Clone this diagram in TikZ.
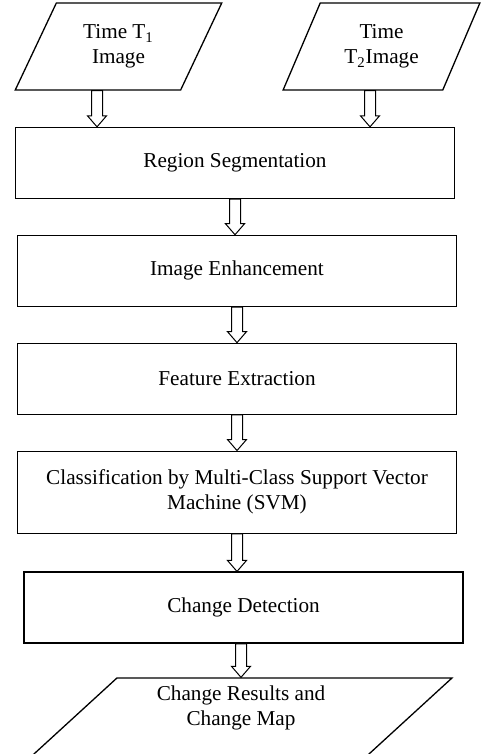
\documentclass[tikz,border=0pt]{standalone}
\usepackage{fontspec}
\setmainfont{Liberation Serif}
\usepackage{tikz}
\usetikzlibrary{shapes.geometric, positioning, calc}
\tikzstyle{stage} = [rectangle, 
minimum width=219.5pt, 
minimum height=35.5pt, 
text centered, 
align=center, 
line width=0.65pt, 
draw=black]
\tikzstyle{data} = [trapezium, 
trapezium stretches=true, 
trapezium left angle=64, 
trapezium right angle=116, 
minimum height=43.5pt, 
text centered, 
align=center, 
line width=0.65pt, 
draw=black]
\tikzstyle{hollow} = [line width=0.5pt, to path={let \p1=(\tikztostart), \p2=(\tikztotarget) in
  (\x1-2.75pt,\y1) -- (\x1-2.75pt,\y2+5.5pt) -- (\x1-4.75pt,\y2+5.5pt) -- (\x1,\y2)
  -- (\x1+4.75pt,\y2+5.5pt) -- (\x1+2.75pt,\y2+5.5pt) -- (\x1+2.75pt,\y1) -- cycle}]

\begin{document}
\begin{tikzpicture}[x=0.5pt, y=-0.5pt, node distance=17.8pt, font=\fontsize{10.6pt}{12.5pt}\selectfont]
\useasboundingbox (0,0) rectangle (482,754);

\node (t1) [data, minimum width=103.5pt] at (118.5,46.5) {Time T\textsubscript{1}\\Image};
\node (t2) [data, minimum width=98.5pt, trapezium left angle=65, trapezium right angle=115] at (381.5,46.5) {Time\\T\textsubscript{2}Image};
\node (rs) [stage] at (235,163) {Region Segmentation};
\node (ie) [stage, below=of rs, xshift=1pt] {Image Enhancement};
\node (fe) [stage, below=of ie] {Feature Extraction};
\node (svm) [stage, below=of fe, minimum height=41pt] {Classification by Multi-Class Support Vector\\Machine (SVM)};
\node (cd) [stage, below=of svm, xshift=3.25pt, yshift=-1pt] {Change Detection};
% output shape runs off the bottom edge
\node (res) [data, below=of cd, xshift=-17.75pt, yshift=1pt, minimum width=244pt, minimum height=70pt,
  trapezium left angle=50, trapezium right angle=130] {};
\node (restxt) [align=center] at (241,708) {Change Results and\\Change Map};

\draw [hollow] ([xshift=-10.75pt]t1.south) to (rs.north);
\draw [hollow] ([xshift=-5.75pt]t2.south) to (rs.north);
\draw [hollow] (rs.south) to (ie.north);
\draw [hollow] (ie.south) to (fe.north);
\draw [hollow] (fe.south) to (svm.north);
\draw [hollow] (svm.south) to (cd.north);
\draw [hollow] ([xshift=-1.25pt]cd.south) to (res.north);

\end{tikzpicture}
\end{document}
